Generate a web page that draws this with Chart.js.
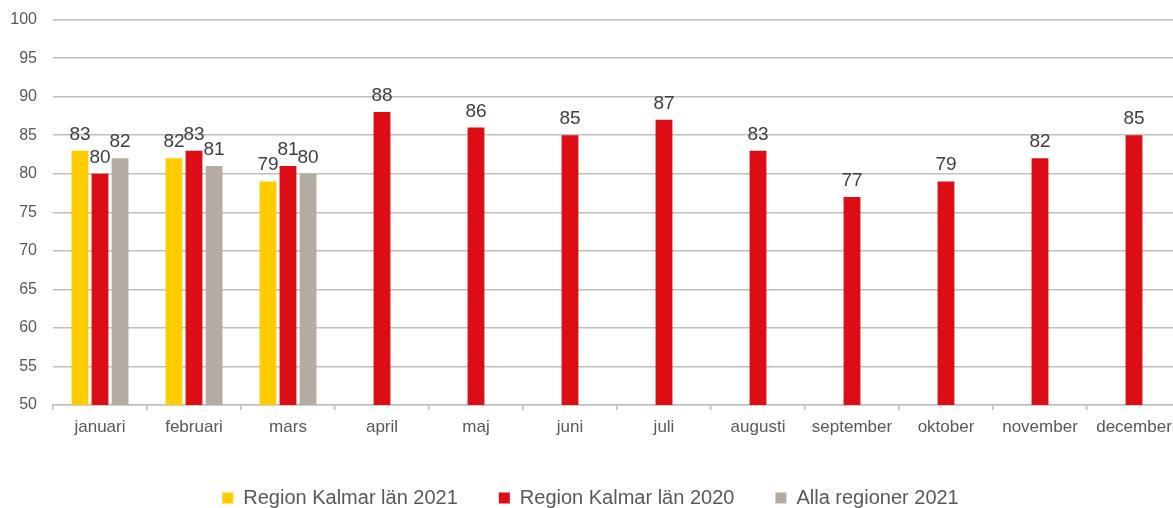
<!DOCTYPE html>
<html>
<head>
<meta charset="utf-8">
<script src="https://cdn.jsdelivr.net/npm/chart.js@4/dist/chart.umd.min.js"></script>
<style>
  html, body { margin: 0; padding: 0; background: #fff; overflow: hidden; }
  #wrap { width: 1181px; height: 524px; margin-top: -6px; }
</style>
</head>
<body>
<div id="wrap"><canvas id="chart"></canvas></div>
<script>
// kategorier och värden
const months = ['januari', 'februari', 'mars', 'april', 'maj', 'juni', 'juli', 'augusti', 'september', 'oktober', 'november', 'december'];
const kalmar2021 = [83, 82, 79, null, null, null, null, null, null, null, null, null];
const kalmar2020 = [80, 83, 81, 88, 86, 85, 87, 83, 77, 79, 82, 85];
const alla2021 = [82, 81, 80, null, null, null, null, null, null, null, null, null];
const yTicks = [50, 55, 60, 65, 70, 75, 80, 85, 90, 95, 100];

const textColor = '#595959';
const fontFamily = '"Liberation Sans", Arial, sans-serif';

// etiketter ovanför staplarna
const valueLabels = {
  id: 'valueLabels',
  afterDatasetsDraw(chart) {
    const ctx = chart.ctx;
    ctx.save();
    ctx.font = '19px ' + fontFamily;
    ctx.fillStyle = '#404040';
    ctx.textAlign = 'center';
    ctx.textBaseline = 'alphabetic';
    chart.data.datasets.forEach((ds, i) => {
      const meta = chart.getDatasetMeta(i);
      meta.data.forEach((bar, j) => {
        const v = ds.data[j];
        if (v == null) return;
        ctx.fillText(String(v), bar.x, bar.y - 11);
      });
    });
    ctx.restore();
  }
};

new Chart(document.getElementById('chart'), {
  type: 'bar',
  data: {
    labels: months,
    datasets: [
      { label: 'Region Kalmar län 2021', data: kalmar2021, backgroundColor: '#FFCC00' },
      { label: 'Region Kalmar län 2020', data: kalmar2020, backgroundColor: '#DC0D15' },
      { label: 'Alla regioner 2021', data: alla2021, backgroundColor: '#B4ACA3' }
    ]
  },
  options: {
    responsive: true,
    maintainAspectRatio: false,
    animation: false,
    layout: { padding: { top: 0, right: 0, bottom: 0, left: 0 } },
    datasets: {
      bar: { categoryPercentage: 0.64, barPercentage: 0.84 }
    },
    scales: {
      x: {
        grid: { display: true, drawOnChartArea: false, color: '#BFBFBF', lineWidth: 1.5, tickLength: 5, offset: true },
        border: { color: '#BFBFBF', width: 1.5 },
        ticks: { color: textColor, font: { family: fontFamily, size: 17 }, padding: 7, maxRotation: 0, autoSkip: false },
        afterFit(scale) { scale.height = 42; }
      },
      y: {
        min: 50,
        max: 100,
        afterBuildTicks(scale) { scale.ticks = yTicks.map(v => ({ value: v })); },
        grid: { color: '#BFBFBF', lineWidth: 1.5, drawTicks: false },
        border: { display: false },
        ticks: { color: textColor, font: { family: fontFamily, size: 16 }, padding: 16 },
        afterFit(scale) { scale.width = 53; }
      }
    },
    plugins: {
      legend: {
        position: 'bottom',
        labels: {
          color: textColor,
          font: { family: fontFamily, size: 20 },
          boxWidth: 11,
          boxHeight: 11,
          padding: 41
        }
      },
      tooltip: { enabled: false }
    }
  },
  plugins: [valueLabels]
});
</script>
</body>
</html>
